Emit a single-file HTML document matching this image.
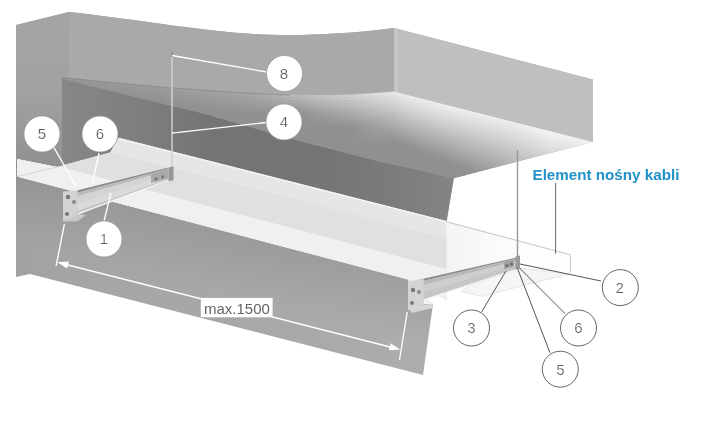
<!DOCTYPE html>
<html><head><meta charset="utf-8">
<style>
html,body{margin:0;padding:0;background:#fff;}
body{width:701px;height:439px;overflow:hidden;position:relative;}
svg{position:absolute;left:0;top:0;display:block;}
text{font-family:"Liberation Sans",sans-serif;}
</style></head><body>
<svg width="701" height="439" viewBox="0 0 701 439">
<defs>
  <linearGradient id="gWall" gradientUnits="userSpaceOnUse" x1="16" y1="0" x2="430" y2="0">
    <stop offset="0" stop-color="#a2a2a2"/>
    <stop offset="0.17" stop-color="#a5a5a5"/>
    <stop offset="0.69" stop-color="#a9a9a9"/>
    <stop offset="1" stop-color="#adadad"/>
  </linearGradient>
  <clipPath id="cSoffit">
    <path d="M62,77 C100,81 150,86 200,89.5 C250,93 300,95.5 330,95 C360,94.5 380,92.5 394,91.5 L593,142 L453.8,178.2 L425,171.3 L380,161.4 L300,141 L200,112.5 L150,100.5 L62,78.5 Z"/>
  </clipPath>
  <linearGradient id="gDark" gradientUnits="userSpaceOnUse" x1="62" y1="0" x2="454" y2="0">
    <stop offset="0" stop-color="#878787"/>
    <stop offset="0.2" stop-color="#7e7e7e"/>
    <stop offset="0.38" stop-color="#747474"/>
    <stop offset="0.68" stop-color="#757575"/>
    <stop offset="0.86" stop-color="#7c7c7c"/>
    <stop offset="1" stop-color="#858585"/>
  </linearGradient>
  <clipPath id="cSlab">
    <polygon points="17,159 57,167 110,152.5 118.7,137.7 446.7,221 446.7,300 408,279.5 17,176.5"/>
  </clipPath>
</defs>

<!-- lower wall + base -->
<path d="M16,25 L69,12 C120,17 200,31 254,34 C290,36.2 340,35 394,28 L593,79.5 L593,142 L453.8,178.2 L446.7,221 L408,281 L408,305 L433,304 L423,375 L30,274 L16,277 Z" fill="url(#gWall)"/>
<!-- left face -->
<linearGradient id="gLeft" gradientUnits="userSpaceOnUse" x1="0" y1="25" x2="0" y2="165"><stop offset="0" stop-color="#a4a4a4"/><stop offset="0.46" stop-color="#a2a2a2"/><stop offset="0.68" stop-color="#9b9b9b"/><stop offset="1" stop-color="#909090"/></linearGradient>
<polygon points="16,25 69,12 69,77 62,77 62,168 16,168" fill="url(#gLeft)"/>

<linearGradient id="gWallShade" gradientUnits="userSpaceOnUse" x1="200" y1="224.7" x2="185" y2="283"><stop offset="0" stop-color="#000" stop-opacity="0.08"/><stop offset="1" stop-color="#000" stop-opacity="0"/></linearGradient>
<polygon points="16,165 408,279.5 433,304 423,375 30,274 16,277" fill="url(#gWallShade)"/>

<!-- upper back face -->
<path d="M69,12 C120,17 200,31 254,34 C290,36.2 340,35 394,28 L394,91.5 C380,92.5 360,94.5 330,95 C300,95.5 250,93 200,89.5 C150,86 100,81 62,77 L69,77 Z" fill="#a9a9a9"/>

<!-- box right face -->
<polygon points="394,28 593,79.5 593,142 394,91.5" fill="#bfbfbf"/>
<polygon points="394,28 398,29 398,92.5 394,91.5" fill="#c5c5c5"/>

<!-- dark back wall (recess) -->
<polygon points="62,78.5 150,100.5 200,112.5 300,141 380,161.4 425,171.3 453.8,178.2 446.7,221 118.7,137.7 110,152.5 62,165.6" fill="url(#gDark)"/>

<!-- soffit underside -->
<!--SOFFIT-->
<defs><linearGradient id="sf0" gradientUnits="userSpaceOnUse" x1="62" y1="0" x2="593" y2="0"><stop offset="0.000" stop-color="#959595"/><stop offset="0.166" stop-color="#9b9b9b"/><stop offset="0.345" stop-color="#a4a4a4"/><stop offset="0.448" stop-color="#b9b9b9"/><stop offset="0.542" stop-color="#cecece"/><stop offset="0.637" stop-color="#e9e9e9"/><stop offset="0.731" stop-color="#eeeeee"/><stop offset="0.844" stop-color="#ececec"/><stop offset="0.919" stop-color="#f3f3f3"/><stop offset="1.000" stop-color="#f0f0f0"/></linearGradient>
<linearGradient id="sf1" gradientUnits="userSpaceOnUse" x1="62" y1="0" x2="593" y2="0"><stop offset="0.000" stop-color="#949494"/><stop offset="0.166" stop-color="#989898"/><stop offset="0.345" stop-color="#a2a2a2"/><stop offset="0.448" stop-color="#b2b2b2"/><stop offset="0.542" stop-color="#c8c8c8"/><stop offset="0.637" stop-color="#e4e4e4"/><stop offset="0.731" stop-color="#e9e9e9"/><stop offset="0.844" stop-color="#e8e8e8"/><stop offset="0.919" stop-color="#efefef"/><stop offset="1.000" stop-color="#ededed"/></linearGradient>
<linearGradient id="sf2" gradientUnits="userSpaceOnUse" x1="62" y1="0" x2="593" y2="0"><stop offset="0.000" stop-color="#929292"/><stop offset="0.166" stop-color="#969696"/><stop offset="0.345" stop-color="#9e9e9e"/><stop offset="0.448" stop-color="#acacac"/><stop offset="0.542" stop-color="#c2c2c2"/><stop offset="0.637" stop-color="#dedede"/><stop offset="0.731" stop-color="#e4e4e4"/><stop offset="0.844" stop-color="#e4e4e4"/><stop offset="0.919" stop-color="#ebebeb"/><stop offset="1.000" stop-color="#e9e9e9"/></linearGradient>
<linearGradient id="sf3" gradientUnits="userSpaceOnUse" x1="62" y1="0" x2="593" y2="0"><stop offset="0.000" stop-color="#919191"/><stop offset="0.166" stop-color="#949494"/><stop offset="0.345" stop-color="#9c9c9c"/><stop offset="0.448" stop-color="#a5a5a5"/><stop offset="0.542" stop-color="#bcbcbc"/><stop offset="0.637" stop-color="#d9d9d9"/><stop offset="0.731" stop-color="#dfdfdf"/><stop offset="0.844" stop-color="#e0e0e0"/><stop offset="0.919" stop-color="#e7e7e7"/><stop offset="1.000" stop-color="#e5e5e5"/></linearGradient>
<linearGradient id="sf4" gradientUnits="userSpaceOnUse" x1="62" y1="0" x2="593" y2="0"><stop offset="0.000" stop-color="#909090"/><stop offset="0.166" stop-color="#919191"/><stop offset="0.345" stop-color="#989898"/><stop offset="0.448" stop-color="#9e9e9e"/><stop offset="0.542" stop-color="#b6b6b6"/><stop offset="0.637" stop-color="#d4d4d4"/><stop offset="0.731" stop-color="#dadada"/><stop offset="0.844" stop-color="#dcdcdc"/><stop offset="0.919" stop-color="#e3e3e3"/><stop offset="1.000" stop-color="#e2e2e2"/></linearGradient>
<linearGradient id="sf5" gradientUnits="userSpaceOnUse" x1="62" y1="0" x2="593" y2="0"><stop offset="0.000" stop-color="#909090"/><stop offset="0.166" stop-color="#909090"/><stop offset="0.345" stop-color="#969696"/><stop offset="0.448" stop-color="#989898"/><stop offset="0.542" stop-color="#b0b0b0"/><stop offset="0.637" stop-color="#cecece"/><stop offset="0.731" stop-color="#d5d5d5"/><stop offset="0.844" stop-color="#d8d8d8"/><stop offset="0.919" stop-color="#e0e0e0"/><stop offset="1.000" stop-color="#dedede"/></linearGradient>
<linearGradient id="sf6" gradientUnits="userSpaceOnUse" x1="62" y1="0" x2="593" y2="0"><stop offset="0.000" stop-color="#909090"/><stop offset="0.166" stop-color="#909090"/><stop offset="0.345" stop-color="#929292"/><stop offset="0.448" stop-color="#919191"/><stop offset="0.542" stop-color="#aaaaaa"/><stop offset="0.637" stop-color="#c9c9c9"/><stop offset="0.731" stop-color="#d0d0d0"/><stop offset="0.844" stop-color="#d4d4d4"/><stop offset="0.919" stop-color="#dcdcdc"/><stop offset="1.000" stop-color="#dbdbdb"/></linearGradient>
<linearGradient id="sf7" gradientUnits="userSpaceOnUse" x1="62" y1="0" x2="593" y2="0"><stop offset="0.000" stop-color="#909090"/><stop offset="0.166" stop-color="#909090"/><stop offset="0.345" stop-color="#909090"/><stop offset="0.448" stop-color="#909090"/><stop offset="0.542" stop-color="#a4a4a4"/><stop offset="0.637" stop-color="#c4c4c4"/><stop offset="0.731" stop-color="#cbcbcb"/><stop offset="0.844" stop-color="#d0d0d0"/><stop offset="0.919" stop-color="#d8d8d8"/><stop offset="1.000" stop-color="#d7d7d7"/></linearGradient>
<linearGradient id="sf8" gradientUnits="userSpaceOnUse" x1="62" y1="0" x2="593" y2="0"><stop offset="0.000" stop-color="#909090"/><stop offset="0.166" stop-color="#909090"/><stop offset="0.345" stop-color="#909090"/><stop offset="0.448" stop-color="#909090"/><stop offset="0.542" stop-color="#9e9e9e"/><stop offset="0.637" stop-color="#bebebe"/><stop offset="0.731" stop-color="#c6c6c6"/><stop offset="0.844" stop-color="#cccccc"/><stop offset="0.919" stop-color="#d4d4d4"/><stop offset="1.000" stop-color="#d3d3d3"/></linearGradient>
<linearGradient id="sf9" gradientUnits="userSpaceOnUse" x1="62" y1="0" x2="593" y2="0"><stop offset="0.000" stop-color="#909090"/><stop offset="0.166" stop-color="#909090"/><stop offset="0.345" stop-color="#909090"/><stop offset="0.448" stop-color="#909090"/><stop offset="0.542" stop-color="#989898"/><stop offset="0.637" stop-color="#b9b9b9"/><stop offset="0.731" stop-color="#c1c1c1"/><stop offset="0.844" stop-color="#c8c8c8"/><stop offset="0.919" stop-color="#d0d0d0"/><stop offset="1.000" stop-color="#d0d0d0"/></linearGradient>
<linearGradient id="sf10" gradientUnits="userSpaceOnUse" x1="62" y1="0" x2="593" y2="0"><stop offset="0.000" stop-color="#909090"/><stop offset="0.166" stop-color="#909090"/><stop offset="0.345" stop-color="#909090"/><stop offset="0.448" stop-color="#909090"/><stop offset="0.542" stop-color="#929292"/><stop offset="0.637" stop-color="#b3b3b3"/><stop offset="0.731" stop-color="#bbbbbb"/><stop offset="0.844" stop-color="#c3c3c3"/><stop offset="0.919" stop-color="#cccccc"/><stop offset="1.000" stop-color="#cccccc"/></linearGradient>
<linearGradient id="sf11" gradientUnits="userSpaceOnUse" x1="62" y1="0" x2="593" y2="0"><stop offset="0.000" stop-color="#909090"/><stop offset="0.166" stop-color="#909090"/><stop offset="0.345" stop-color="#909090"/><stop offset="0.448" stop-color="#909090"/><stop offset="0.542" stop-color="#909090"/><stop offset="0.637" stop-color="#aeaeae"/><stop offset="0.731" stop-color="#b6b6b6"/><stop offset="0.844" stop-color="#bfbfbf"/><stop offset="0.919" stop-color="#c8c8c8"/><stop offset="1.000" stop-color="#c9c9c9"/></linearGradient>
<linearGradient id="sf12" gradientUnits="userSpaceOnUse" x1="62" y1="0" x2="593" y2="0"><stop offset="0.000" stop-color="#909090"/><stop offset="0.166" stop-color="#909090"/><stop offset="0.345" stop-color="#909090"/><stop offset="0.448" stop-color="#909090"/><stop offset="0.542" stop-color="#909090"/><stop offset="0.637" stop-color="#a8a8a8"/><stop offset="0.731" stop-color="#b1b1b1"/><stop offset="0.844" stop-color="#bbbbbb"/><stop offset="0.919" stop-color="#c4c4c4"/><stop offset="1.000" stop-color="#c5c5c5"/></linearGradient>
<linearGradient id="sf13" gradientUnits="userSpaceOnUse" x1="62" y1="0" x2="593" y2="0"><stop offset="0.000" stop-color="#909090"/><stop offset="0.166" stop-color="#909090"/><stop offset="0.345" stop-color="#909090"/><stop offset="0.448" stop-color="#909090"/><stop offset="0.542" stop-color="#909090"/><stop offset="0.637" stop-color="#a3a3a3"/><stop offset="0.731" stop-color="#acacac"/><stop offset="0.844" stop-color="#b7b7b7"/><stop offset="0.919" stop-color="#c0c0c0"/><stop offset="1.000" stop-color="#c1c1c1"/></linearGradient>
<linearGradient id="sf14" gradientUnits="userSpaceOnUse" x1="62" y1="0" x2="593" y2="0"><stop offset="0.000" stop-color="#909090"/><stop offset="0.166" stop-color="#909090"/><stop offset="0.345" stop-color="#909090"/><stop offset="0.448" stop-color="#909090"/><stop offset="0.542" stop-color="#909090"/><stop offset="0.637" stop-color="#9e9e9e"/><stop offset="0.731" stop-color="#a7a7a7"/><stop offset="0.844" stop-color="#b3b3b3"/><stop offset="0.919" stop-color="#bcbcbc"/><stop offset="1.000" stop-color="#bebebe"/></linearGradient>
<linearGradient id="sf15" gradientUnits="userSpaceOnUse" x1="62" y1="0" x2="593" y2="0"><stop offset="0.000" stop-color="#909090"/><stop offset="0.166" stop-color="#909090"/><stop offset="0.345" stop-color="#909090"/><stop offset="0.448" stop-color="#909090"/><stop offset="0.542" stop-color="#909090"/><stop offset="0.637" stop-color="#989898"/><stop offset="0.731" stop-color="#a2a2a2"/><stop offset="0.844" stop-color="#afafaf"/><stop offset="0.919" stop-color="#b9b9b9"/><stop offset="1.000" stop-color="#bababa"/></linearGradient>
<linearGradient id="sf16" gradientUnits="userSpaceOnUse" x1="62" y1="0" x2="593" y2="0"><stop offset="0.000" stop-color="#909090"/><stop offset="0.166" stop-color="#909090"/><stop offset="0.345" stop-color="#909090"/><stop offset="0.448" stop-color="#909090"/><stop offset="0.542" stop-color="#909090"/><stop offset="0.637" stop-color="#939393"/><stop offset="0.731" stop-color="#9d9d9d"/><stop offset="0.844" stop-color="#ababab"/><stop offset="0.919" stop-color="#b5b5b5"/><stop offset="1.000" stop-color="#b7b7b7"/></linearGradient>
<linearGradient id="sf17" gradientUnits="userSpaceOnUse" x1="62" y1="0" x2="593" y2="0"><stop offset="0.000" stop-color="#909090"/><stop offset="0.166" stop-color="#909090"/><stop offset="0.345" stop-color="#909090"/><stop offset="0.448" stop-color="#909090"/><stop offset="0.542" stop-color="#909090"/><stop offset="0.637" stop-color="#909090"/><stop offset="0.731" stop-color="#989898"/><stop offset="0.844" stop-color="#a7a7a7"/><stop offset="0.919" stop-color="#b1b1b1"/><stop offset="1.000" stop-color="#b3b3b3"/></linearGradient>
<linearGradient id="sf18" gradientUnits="userSpaceOnUse" x1="62" y1="0" x2="593" y2="0"><stop offset="0.000" stop-color="#909090"/><stop offset="0.166" stop-color="#909090"/><stop offset="0.345" stop-color="#909090"/><stop offset="0.448" stop-color="#909090"/><stop offset="0.542" stop-color="#909090"/><stop offset="0.637" stop-color="#909090"/><stop offset="0.731" stop-color="#939393"/><stop offset="0.844" stop-color="#a3a3a3"/><stop offset="0.919" stop-color="#adadad"/><stop offset="1.000" stop-color="#afafaf"/></linearGradient>
<linearGradient id="sf19" gradientUnits="userSpaceOnUse" x1="62" y1="0" x2="593" y2="0"><stop offset="0.000" stop-color="#909090"/><stop offset="0.166" stop-color="#909090"/><stop offset="0.345" stop-color="#909090"/><stop offset="0.448" stop-color="#909090"/><stop offset="0.542" stop-color="#909090"/><stop offset="0.637" stop-color="#909090"/><stop offset="0.731" stop-color="#909090"/><stop offset="0.844" stop-color="#9f9f9f"/><stop offset="0.919" stop-color="#a9a9a9"/><stop offset="1.000" stop-color="#acacac"/></linearGradient>
<linearGradient id="sf20" gradientUnits="userSpaceOnUse" x1="62" y1="0" x2="593" y2="0"><stop offset="0.000" stop-color="#909090"/><stop offset="0.166" stop-color="#909090"/><stop offset="0.345" stop-color="#909090"/><stop offset="0.448" stop-color="#909090"/><stop offset="0.542" stop-color="#909090"/><stop offset="0.637" stop-color="#909090"/><stop offset="0.731" stop-color="#909090"/><stop offset="0.844" stop-color="#9b9b9b"/><stop offset="0.919" stop-color="#a5a5a5"/><stop offset="1.000" stop-color="#a8a8a8"/></linearGradient>
<linearGradient id="sf21" gradientUnits="userSpaceOnUse" x1="62" y1="0" x2="593" y2="0"><stop offset="0.000" stop-color="#909090"/><stop offset="0.166" stop-color="#909090"/><stop offset="0.345" stop-color="#909090"/><stop offset="0.448" stop-color="#909090"/><stop offset="0.542" stop-color="#909090"/><stop offset="0.637" stop-color="#909090"/><stop offset="0.731" stop-color="#909090"/><stop offset="0.844" stop-color="#979797"/><stop offset="0.919" stop-color="#a1a1a1"/><stop offset="1.000" stop-color="#a5a5a5"/></linearGradient>
<linearGradient id="sf22" gradientUnits="userSpaceOnUse" x1="62" y1="0" x2="593" y2="0"><stop offset="0.000" stop-color="#909090"/><stop offset="0.166" stop-color="#909090"/><stop offset="0.345" stop-color="#909090"/><stop offset="0.448" stop-color="#909090"/><stop offset="0.542" stop-color="#909090"/><stop offset="0.637" stop-color="#909090"/><stop offset="0.731" stop-color="#909090"/><stop offset="0.844" stop-color="#939393"/><stop offset="0.919" stop-color="#9d9d9d"/><stop offset="1.000" stop-color="#a1a1a1"/></linearGradient>
<linearGradient id="sf23" gradientUnits="userSpaceOnUse" x1="62" y1="0" x2="593" y2="0"><stop offset="0.000" stop-color="#909090"/><stop offset="0.166" stop-color="#909090"/><stop offset="0.345" stop-color="#909090"/><stop offset="0.448" stop-color="#909090"/><stop offset="0.542" stop-color="#909090"/><stop offset="0.637" stop-color="#909090"/><stop offset="0.731" stop-color="#909090"/><stop offset="0.844" stop-color="#909090"/><stop offset="0.919" stop-color="#999999"/><stop offset="1.000" stop-color="#9d9d9d"/></linearGradient>
<linearGradient id="sf24" gradientUnits="userSpaceOnUse" x1="62" y1="0" x2="593" y2="0"><stop offset="0.000" stop-color="#909090"/><stop offset="0.166" stop-color="#909090"/><stop offset="0.345" stop-color="#909090"/><stop offset="0.448" stop-color="#909090"/><stop offset="0.542" stop-color="#909090"/><stop offset="0.637" stop-color="#909090"/><stop offset="0.731" stop-color="#909090"/><stop offset="0.844" stop-color="#909090"/><stop offset="0.919" stop-color="#959595"/><stop offset="1.000" stop-color="#9a9a9a"/></linearGradient>
<linearGradient id="sf25" gradientUnits="userSpaceOnUse" x1="62" y1="0" x2="593" y2="0"><stop offset="0.000" stop-color="#909090"/><stop offset="0.166" stop-color="#909090"/><stop offset="0.345" stop-color="#909090"/><stop offset="0.448" stop-color="#909090"/><stop offset="0.542" stop-color="#909090"/><stop offset="0.637" stop-color="#909090"/><stop offset="0.731" stop-color="#909090"/><stop offset="0.844" stop-color="#909090"/><stop offset="0.919" stop-color="#929292"/><stop offset="1.000" stop-color="#969696"/></linearGradient></defs>
<g clip-path="url(#cSoffit)">
<polygon points="62.0,75.0 80.0,76.9 100.0,78.9 125.0,81.3 150.0,83.6 175.0,85.6 200.0,87.5 230.0,89.5 260.0,91.2 290.0,92.4 320.0,93.1 350.0,92.4 375.0,91.0 394.0,89.5 593.0,139.7 592.0,139.5 592.0,145.0 593.0,145.2 394.0,95.0 375.0,96.5 350.0,97.9 320.0,98.6 290.0,97.9 260.0,96.7 230.0,95.0 200.0,93.0 175.0,91.1 150.0,89.1 125.0,86.8 100.0,84.4 80.0,82.4 62.0,80.5" fill="url(#sf0)"/>
<polygon points="62.0,79.5 80.0,81.4 100.0,83.4 125.0,85.8 150.0,88.1 175.0,90.1 200.0,92.0 230.0,94.0 260.0,95.7 290.0,96.9 320.0,97.6 350.0,96.9 375.0,95.5 394.0,94.0 593.0,144.2 592.0,144.0 592.0,148.0 593.0,148.2 394.0,98.0 375.0,99.5 350.0,100.9 320.0,101.6 290.0,100.9 260.0,99.7 230.0,98.0 200.0,96.0 175.0,94.1 150.0,92.1 125.0,89.8 100.0,87.4 80.0,85.4 62.0,83.5" fill="url(#sf1)"/>
<polygon points="62.0,82.5 80.0,84.4 100.0,86.4 125.0,88.8 150.0,91.1 175.0,93.1 200.0,95.0 230.0,97.0 260.0,98.7 290.0,99.9 320.0,100.6 350.0,99.9 375.0,98.5 394.0,97.0 593.0,147.2 592.0,147.0 592.0,151.0 593.0,151.2 394.0,101.0 375.0,102.5 350.0,103.9 320.0,104.6 290.0,103.9 260.0,102.7 230.0,101.0 200.0,99.0 175.0,97.1 150.0,95.1 125.0,92.8 100.0,90.4 80.0,88.4 62.0,86.5" fill="url(#sf2)"/>
<polygon points="62.0,85.5 80.0,87.4 100.0,89.4 125.0,91.8 150.0,94.1 175.0,96.1 200.0,98.0 230.0,100.0 260.0,101.7 290.0,102.9 320.0,103.6 350.0,102.9 375.0,101.5 394.0,100.0 593.0,150.2 592.0,150.0 592.0,154.0 593.0,154.2 394.0,104.0 375.0,105.5 350.0,106.9 320.0,107.6 290.0,106.9 260.0,105.7 230.0,104.0 200.0,102.0 175.0,100.1 150.0,98.1 125.0,95.8 100.0,93.4 80.0,91.4 62.0,89.5" fill="url(#sf3)"/>
<polygon points="62.0,88.5 80.0,90.4 100.0,92.4 125.0,94.8 150.0,97.1 175.0,99.1 200.0,101.0 230.0,103.0 260.0,104.7 290.0,105.9 320.0,106.6 350.0,105.9 375.0,104.5 394.0,103.0 593.0,153.2 592.0,153.0 592.0,157.0 593.0,157.2 394.0,107.0 375.0,108.5 350.0,109.9 320.0,110.6 290.0,109.9 260.0,108.7 230.0,107.0 200.0,105.0 175.0,103.1 150.0,101.1 125.0,98.8 100.0,96.4 80.0,94.4 62.0,92.5" fill="url(#sf4)"/>
<polygon points="62.0,91.5 80.0,93.4 100.0,95.4 125.0,97.8 150.0,100.1 175.0,102.1 200.0,104.0 230.0,106.0 260.0,107.7 290.0,108.9 320.0,109.6 350.0,108.9 375.0,107.5 394.0,106.0 593.0,156.2 592.0,156.0 592.0,160.0 593.0,160.2 394.0,110.0 375.0,111.5 350.0,112.9 320.0,113.6 290.0,112.9 260.0,111.7 230.0,110.0 200.0,108.0 175.0,106.1 150.0,104.1 125.0,101.8 100.0,99.4 80.0,97.4 62.0,95.5" fill="url(#sf5)"/>
<polygon points="62.0,94.5 80.0,96.4 100.0,98.4 125.0,100.8 150.0,103.1 175.0,105.1 200.0,107.0 230.0,109.0 260.0,110.7 290.0,111.9 320.0,112.6 350.0,111.9 375.0,110.5 394.0,109.0 593.0,159.2 592.0,159.0 592.0,163.0 593.0,163.2 394.0,113.0 375.0,114.5 350.0,115.9 320.0,116.6 290.0,115.9 260.0,114.7 230.0,113.0 200.0,111.0 175.0,109.1 150.0,107.1 125.0,104.8 100.0,102.4 80.0,100.4 62.0,98.5" fill="url(#sf6)"/>
<polygon points="62.0,97.5 80.0,99.4 100.0,101.4 125.0,103.8 150.0,106.1 175.0,108.1 200.0,110.0 230.0,112.0 260.0,113.7 290.0,114.9 320.0,115.6 350.0,114.9 375.0,113.5 394.0,112.0 593.0,162.2 592.0,162.0 592.0,166.0 593.0,166.2 394.0,116.0 375.0,117.5 350.0,118.9 320.0,119.6 290.0,118.9 260.0,117.7 230.0,116.0 200.0,114.0 175.0,112.1 150.0,110.1 125.0,107.8 100.0,105.4 80.0,103.4 62.0,101.5" fill="url(#sf7)"/>
<polygon points="62.0,100.5 80.0,102.4 100.0,104.4 125.0,106.8 150.0,109.1 175.0,111.1 200.0,113.0 230.0,115.0 260.0,116.7 290.0,117.9 320.0,118.6 350.0,117.9 375.0,116.5 394.0,115.0 593.0,165.2 592.0,165.0 592.0,169.0 593.0,169.2 394.0,119.0 375.0,120.5 350.0,121.9 320.0,122.6 290.0,121.9 260.0,120.7 230.0,119.0 200.0,117.0 175.0,115.1 150.0,113.1 125.0,110.8 100.0,108.4 80.0,106.4 62.0,104.5" fill="url(#sf8)"/>
<polygon points="62.0,103.5 80.0,105.4 100.0,107.4 125.0,109.8 150.0,112.1 175.0,114.1 200.0,116.0 230.0,118.0 260.0,119.7 290.0,120.9 320.0,121.6 350.0,120.9 375.0,119.5 394.0,118.0 593.0,168.2 592.0,168.0 592.0,172.0 593.0,172.2 394.0,122.0 375.0,123.5 350.0,124.9 320.0,125.6 290.0,124.9 260.0,123.7 230.0,122.0 200.0,120.0 175.0,118.1 150.0,116.1 125.0,113.8 100.0,111.4 80.0,109.4 62.0,107.5" fill="url(#sf9)"/>
<polygon points="62.0,106.5 80.0,108.4 100.0,110.4 125.0,112.8 150.0,115.1 175.0,117.1 200.0,119.0 230.0,121.0 260.0,122.7 290.0,123.9 320.0,124.6 350.0,123.9 375.0,122.5 394.0,121.0 593.0,171.2 592.0,171.0 592.0,175.0 593.0,175.2 394.0,125.0 375.0,126.5 350.0,127.9 320.0,128.6 290.0,127.9 260.0,126.7 230.0,125.0 200.0,123.0 175.0,121.1 150.0,119.1 125.0,116.8 100.0,114.4 80.0,112.4 62.0,110.5" fill="url(#sf10)"/>
<polygon points="62.0,109.5 80.0,111.4 100.0,113.4 125.0,115.8 150.0,118.1 175.0,120.1 200.0,122.0 230.0,124.0 260.0,125.7 290.0,126.9 320.0,127.6 350.0,126.9 375.0,125.5 394.0,124.0 593.0,174.2 592.0,174.0 592.0,178.0 593.0,178.2 394.0,128.0 375.0,129.5 350.0,130.9 320.0,131.6 290.0,130.9 260.0,129.7 230.0,128.0 200.0,126.0 175.0,124.1 150.0,122.1 125.0,119.8 100.0,117.4 80.0,115.4 62.0,113.5" fill="url(#sf11)"/>
<polygon points="62.0,112.5 80.0,114.4 100.0,116.4 125.0,118.8 150.0,121.1 175.0,123.1 200.0,125.0 230.0,127.0 260.0,128.7 290.0,129.9 320.0,130.6 350.0,129.9 375.0,128.5 394.0,127.0 593.0,177.2 592.0,177.0 592.0,181.0 593.0,181.2 394.0,131.0 375.0,132.5 350.0,133.9 320.0,134.6 290.0,133.9 260.0,132.7 230.0,131.0 200.0,129.0 175.0,127.1 150.0,125.1 125.0,122.8 100.0,120.4 80.0,118.4 62.0,116.5" fill="url(#sf12)"/>
<polygon points="62.0,115.5 80.0,117.4 100.0,119.4 125.0,121.8 150.0,124.1 175.0,126.1 200.0,128.0 230.0,130.0 260.0,131.7 290.0,132.9 320.0,133.6 350.0,132.9 375.0,131.5 394.0,130.0 593.0,180.2 592.0,180.0 592.0,184.0 593.0,184.2 394.0,134.0 375.0,135.5 350.0,136.9 320.0,137.6 290.0,136.9 260.0,135.7 230.0,134.0 200.0,132.0 175.0,130.1 150.0,128.1 125.0,125.8 100.0,123.4 80.0,121.4 62.0,119.5" fill="url(#sf13)"/>
<polygon points="62.0,118.5 80.0,120.4 100.0,122.4 125.0,124.8 150.0,127.1 175.0,129.1 200.0,131.0 230.0,133.0 260.0,134.7 290.0,135.9 320.0,136.6 350.0,135.9 375.0,134.5 394.0,133.0 593.0,183.2 592.0,183.0 592.0,187.0 593.0,187.2 394.0,137.0 375.0,138.5 350.0,139.9 320.0,140.6 290.0,139.9 260.0,138.7 230.0,137.0 200.0,135.0 175.0,133.1 150.0,131.1 125.0,128.8 100.0,126.4 80.0,124.4 62.0,122.5" fill="url(#sf14)"/>
<polygon points="62.0,121.5 80.0,123.4 100.0,125.4 125.0,127.8 150.0,130.1 175.0,132.1 200.0,134.0 230.0,136.0 260.0,137.7 290.0,138.9 320.0,139.6 350.0,138.9 375.0,137.5 394.0,136.0 593.0,186.2 592.0,186.0 592.0,190.0 593.0,190.2 394.0,140.0 375.0,141.5 350.0,142.9 320.0,143.6 290.0,142.9 260.0,141.7 230.0,140.0 200.0,138.0 175.0,136.1 150.0,134.1 125.0,131.8 100.0,129.4 80.0,127.4 62.0,125.5" fill="url(#sf15)"/>
<polygon points="62.0,124.5 80.0,126.4 100.0,128.4 125.0,130.8 150.0,133.1 175.0,135.1 200.0,137.0 230.0,139.0 260.0,140.7 290.0,141.9 320.0,142.6 350.0,141.9 375.0,140.5 394.0,139.0 593.0,189.2 592.0,189.0 592.0,193.0 593.0,193.2 394.0,143.0 375.0,144.5 350.0,145.9 320.0,146.6 290.0,145.9 260.0,144.7 230.0,143.0 200.0,141.0 175.0,139.1 150.0,137.1 125.0,134.8 100.0,132.4 80.0,130.4 62.0,128.5" fill="url(#sf16)"/>
<polygon points="62.0,127.5 80.0,129.4 100.0,131.4 125.0,133.8 150.0,136.1 175.0,138.1 200.0,140.0 230.0,142.0 260.0,143.7 290.0,144.9 320.0,145.6 350.0,144.9 375.0,143.5 394.0,142.0 593.0,192.2 592.0,192.0 592.0,196.0 593.0,196.2 394.0,146.0 375.0,147.5 350.0,148.9 320.0,149.6 290.0,148.9 260.0,147.7 230.0,146.0 200.0,144.0 175.0,142.1 150.0,140.1 125.0,137.8 100.0,135.4 80.0,133.4 62.0,131.5" fill="url(#sf17)"/>
<polygon points="62.0,130.5 80.0,132.4 100.0,134.4 125.0,136.8 150.0,139.1 175.0,141.1 200.0,143.0 230.0,145.0 260.0,146.7 290.0,147.9 320.0,148.6 350.0,147.9 375.0,146.5 394.0,145.0 593.0,195.2 592.0,195.0 592.0,199.0 593.0,199.2 394.0,149.0 375.0,150.5 350.0,151.9 320.0,152.6 290.0,151.9 260.0,150.7 230.0,149.0 200.0,147.0 175.0,145.1 150.0,143.1 125.0,140.8 100.0,138.4 80.0,136.4 62.0,134.5" fill="url(#sf18)"/>
<polygon points="62.0,133.5 80.0,135.4 100.0,137.4 125.0,139.8 150.0,142.1 175.0,144.1 200.0,146.0 230.0,148.0 260.0,149.7 290.0,150.9 320.0,151.6 350.0,150.9 375.0,149.5 394.0,148.0 593.0,198.2 592.0,198.0 592.0,202.0 593.0,202.2 394.0,152.0 375.0,153.5 350.0,154.9 320.0,155.6 290.0,154.9 260.0,153.7 230.0,152.0 200.0,150.0 175.0,148.1 150.0,146.1 125.0,143.8 100.0,141.4 80.0,139.4 62.0,137.5" fill="url(#sf19)"/>
<polygon points="62.0,136.5 80.0,138.4 100.0,140.4 125.0,142.8 150.0,145.1 175.0,147.1 200.0,149.0 230.0,151.0 260.0,152.7 290.0,153.9 320.0,154.6 350.0,153.9 375.0,152.5 394.0,151.0 593.0,201.2 592.0,201.0 592.0,205.0 593.0,205.2 394.0,155.0 375.0,156.5 350.0,157.9 320.0,158.6 290.0,157.9 260.0,156.7 230.0,155.0 200.0,153.0 175.0,151.1 150.0,149.1 125.0,146.8 100.0,144.4 80.0,142.4 62.0,140.5" fill="url(#sf20)"/>
<polygon points="62.0,139.5 80.0,141.4 100.0,143.4 125.0,145.8 150.0,148.1 175.0,150.1 200.0,152.0 230.0,154.0 260.0,155.7 290.0,156.9 320.0,157.6 350.0,156.9 375.0,155.5 394.0,154.0 593.0,204.2 592.0,204.0 592.0,208.0 593.0,208.2 394.0,158.0 375.0,159.5 350.0,160.9 320.0,161.6 290.0,160.9 260.0,159.7 230.0,158.0 200.0,156.0 175.0,154.1 150.0,152.1 125.0,149.8 100.0,147.4 80.0,145.4 62.0,143.5" fill="url(#sf21)"/>
<polygon points="62.0,142.5 80.0,144.4 100.0,146.4 125.0,148.8 150.0,151.1 175.0,153.1 200.0,155.0 230.0,157.0 260.0,158.7 290.0,159.9 320.0,160.6 350.0,159.9 375.0,158.5 394.0,157.0 593.0,207.2 592.0,207.0 592.0,211.0 593.0,211.2 394.0,161.0 375.0,162.5 350.0,163.9 320.0,164.6 290.0,163.9 260.0,162.7 230.0,161.0 200.0,159.0 175.0,157.1 150.0,155.1 125.0,152.8 100.0,150.4 80.0,148.4 62.0,146.5" fill="url(#sf22)"/>
<polygon points="62.0,145.5 80.0,147.4 100.0,149.4 125.0,151.8 150.0,154.1 175.0,156.1 200.0,158.0 230.0,160.0 260.0,161.7 290.0,162.9 320.0,163.6 350.0,162.9 375.0,161.5 394.0,160.0 593.0,210.2 592.0,210.0 592.0,214.0 593.0,214.2 394.0,164.0 375.0,165.5 350.0,166.9 320.0,167.6 290.0,166.9 260.0,165.7 230.0,164.0 200.0,162.0 175.0,160.1 150.0,158.1 125.0,155.8 100.0,153.4 80.0,151.4 62.0,149.5" fill="url(#sf23)"/>
<polygon points="62.0,148.5 80.0,150.4 100.0,152.4 125.0,154.8 150.0,157.1 175.0,159.1 200.0,161.0 230.0,163.0 260.0,164.7 290.0,165.9 320.0,166.6 350.0,165.9 375.0,164.5 394.0,163.0 593.0,213.2 592.0,213.0 592.0,217.0 593.0,217.2 394.0,167.0 375.0,168.5 350.0,169.9 320.0,170.6 290.0,169.9 260.0,168.7 230.0,167.0 200.0,165.0 175.0,163.1 150.0,161.1 125.0,158.8 100.0,156.4 80.0,154.4 62.0,152.5" fill="url(#sf24)"/>
<polygon points="62.0,151.5 80.0,153.4 100.0,155.4 125.0,157.8 150.0,160.1 175.0,162.1 200.0,164.0 230.0,166.0 260.0,167.7 290.0,168.9 320.0,169.6 350.0,168.9 375.0,167.5 394.0,166.0 593.0,216.2 592.0,216.0 592.0,220.0 593.0,220.2 394.0,170.0 375.0,171.5 350.0,172.9 320.0,173.6 290.0,172.9 260.0,171.7 230.0,170.0 200.0,168.0 175.0,166.1 150.0,164.1 125.0,161.8 100.0,159.4 80.0,157.4 62.0,155.5" fill="url(#sf25)"/>
</g>
<!--/SOFFIT-->
<path d="M62,77.6 C100,81.6 150,86.6 200,90.1 C230,92.2 260,94 290,95.2" fill="none" stroke="#888" stroke-width="1" opacity="0.7"/>

<!-- slab -->
<g clip-path="url(#cSlab)">
  <rect x="0" y="100" width="460" height="220" fill="#e6e6e6"/>
  <polygon points="0,124.4 571,269.7 571,400 0,400" fill="#e0e0e0"/>
  <polygon points="0,150.8 571,302.1 571,400 0,400" fill="#f0f0f0"/>
  <line x1="118.7" y1="138.4" x2="446.7" y2="221.7" stroke="#f6f6f6" stroke-width="1.2"/>
</g>
<!-- slab left tab -->
<polygon points="17,159 57,167 17,176.5" fill="#efefef"/>
<line x1="17" y1="176.5" x2="57" y2="167" stroke="#c8c8c8" stroke-width="0.7"/>
<!-- slab right translucent part -->
<linearGradient id="gSlabR" gradientUnits="userSpaceOnUse" x1="447" y1="0" x2="520" y2="0"><stop offset="0" stop-color="#f4f4f4"/><stop offset="1" stop-color="#fdfdfd"/></linearGradient>
<polygon points="446.7,221 571,254 571,272 520,268 446.7,290" fill="url(#gSlabR)"/>
<polyline points="446.7,221.8 570.4,254.8 570.4,273" fill="none" stroke="#b8b8b8" stroke-width="0.8"/>
<polygon points="461,291.7 481.5,296.3 568.7,274 520,268 470,285" fill="#f4f5f7" stroke="#d6d6d6" stroke-width="0.6"/>

<!-- rods -->
<line x1="172" y1="52" x2="172" y2="183" stroke="#d0d0d0" stroke-width="1.5"/>
<line x1="172" y1="52" x2="172" y2="57" stroke="#8a8a8a" stroke-width="1.8"/>
<line x1="517.5" y1="150" x2="517.5" y2="262" stroke="#9a9a9a" stroke-width="1.4"/>
<line x1="555.6" y1="183" x2="555.6" y2="253.7" stroke="#666" stroke-width="1"/>

<!-- left bracket -->
<polygon points="76.8,190.5 167.6,167.7 167.8,169.0 76.9,192.9" fill="#8c8c8c"/>
<polygon points="76.9,192.7 167.8,168.9 168.0,170.9 77.0,196.6" fill="#bababa"/>
<polygon points="77.0,196.3 168.0,170.8 168.5,174.7 77.3,203.9" fill="#d4d4d4"/>
<polygon points="77.3,203.6 168.5,174.6 169.1,178.7 77.6,211.4" fill="#dadada"/>
<polygon points="77.6,211.2 169.0,178.6 169.2,179.6 77.6,213.1" fill="#c2c2c2"/>
<polygon points="77.6,212.9 169.2,179.5 169.3,180.5 77.7,214.8" fill="#f4f4f4"/>
<polygon points="63,191.5 77.7,190.5 77.7,221.3 63,221.3" fill="#d2d2d2"/>
<polygon points="63,221.3 77.7,221.3 86,215 78,214" fill="#c8c8c8"/>
<circle cx="68" cy="197" r="2.2" fill="#777"/>
<circle cx="74" cy="202" r="2" fill="#888"/>
<circle cx="67" cy="214" r="2" fill="#777"/>
<polygon points="151,174 168.5,169.5 168.5,178.5 151,183" fill="#a9a9a9"/>
<circle cx="156" cy="179" r="1.7" fill="#777"/>
<circle cx="162.5" cy="176.8" r="1.6" fill="#7a7a7a"/>
<polygon points="168.5,167.5 173.5,166.3 173.5,180 168.5,181.2" fill="#979797"/>

<!-- right bracket -->
<polygon points="416.7,280.3 518.7,257.0 518.5,258.2 417.3,282.4" fill="#8a8a8a"/>
<polygon points="417.3,282.2 518.5,258.1 518.2,260.8 418.6,286.5" fill="#b9b9b9"/>
<polygon points="418.5,286.3 518.2,260.6 517.7,264.5 420.5,292.7" fill="#cecece"/>
<polygon points="420.4,292.5 517.7,264.4 517.2,267.8 422.1,298.1" fill="#c6c6c6"/>
<polygon points="422.1,297.9 517.3,267.6 517.1,268.6 422.6,299.6" fill="#b6b6b6"/>
<polygon points="422.5,299.3 517.1,268.5 517.0,269.5 423.0,301.0" fill="#efefef"/>
<polygon points="515.5,256.5 520,255.5 520,268.5 515.5,269.5" fill="#9a9a9a"/>
<polygon points="504,262 514,259.5 514,266.5 504,269" fill="#a0a0a0"/>
<circle cx="507" cy="265.5" r="1.6" fill="#6f6f6f"/>
<circle cx="511.5" cy="264" r="1.6" fill="#6f6f6f"/>
<polygon points="408,281.6 423.7,279 423.7,309.6 408,309.6" fill="#d4d4d4"/>
<polygon points="408,308 433,303.5 432.5,308 412,313" fill="#d6d6d6"/>
<circle cx="413" cy="290" r="2.2" fill="#777"/>
<circle cx="419" cy="292" r="2" fill="#888"/>
<circle cx="412" cy="303" r="2" fill="#777"/>

<!-- dimension -->
<line x1="64.4" y1="224" x2="56.1" y2="266" stroke="#fff" stroke-width="1.3"/>
<line x1="407.2" y1="312" x2="399.5" y2="360" stroke="#fff" stroke-width="1.3"/>
<line x1="60" y1="263" x2="397" y2="348.7" stroke="#fff" stroke-width="1.4"/>
<polygon points="57.3,262.3 68.9,261.5 67.1,268.5" fill="#fff"/>
<polygon points="400.3,349.5 390.5,343.3 388.8,350.3" fill="#fff"/>
<rect x="200.8" y="297.9" width="71.8" height="19.4" fill="#fff"/>
<text x="204" y="313.6" font-size="15" fill="#666" style="filter:grayscale(1)">max.1500</text>

<!-- leader lines on gray (white) -->
<g stroke="#fff" stroke-width="1.3" fill="none">
  <line x1="172" y1="55.5" x2="266.5" y2="72"/>
  <line x1="172" y1="133.2" x2="266" y2="122.5"/>
  <line x1="54" y1="147.6" x2="76.4" y2="186.5"/>
  <line x1="99" y1="153" x2="92.5" y2="183"/>
  <line x1="104" y1="221" x2="111" y2="193"/>
</g>
<!-- leader lines on white (dark) -->
<g stroke="#555" stroke-width="1" fill="none">
  <line x1="601" y1="281" x2="520" y2="264"/>
  <line x1="565" y1="313.5" x2="519.3" y2="267.8"/>
  <line x1="550" y1="352.8" x2="517.5" y2="268.5"/>
  <line x1="481.7" y1="311.8" x2="506" y2="271"/>
</g>

<!-- circles on gray -->
<g fill="#fff" stroke="#8a8a8a" stroke-width="0.6">
  <circle cx="42" cy="134" r="18"/>
  <circle cx="100" cy="134" r="18"/>
  <circle cx="284.5" cy="73.5" r="18"/>
  <circle cx="284" cy="122" r="18"/>
  <circle cx="104" cy="239" r="18"/>
</g>
<!-- circles on white -->
<g fill="#fff" stroke="#666" stroke-width="1">
  <circle cx="620.3" cy="287.6" r="18"/>
  <circle cx="578.5" cy="328" r="18"/>
  <circle cx="471.5" cy="328" r="18"/>
  <circle cx="560.3" cy="369.2" r="18"/>
</g>
<g font-size="15" fill="#5a5a5a" stroke="#fff" stroke-width="0.2" text-anchor="middle" style="filter:grayscale(1)">
  <text x="42" y="139.4">5</text>
  <text x="100" y="139.4">6</text>
  <text x="284" y="78.9">8</text>
  <text x="284" y="127.4">4</text>
  <text x="104" y="244.4">1</text>
  <text x="619.6" y="293">2</text>
  <text x="578.5" y="333.4">6</text>
  <text x="471.5" y="333.4">3</text>
  <text x="560.3" y="374.6">5</text>
</g>

<text x="532.5" y="179.5" font-size="15.2" font-weight="bold" fill="#2191c9" style="filter:opacity(0.999)">Element nośny kabli</text>
</svg>
</body></html>
